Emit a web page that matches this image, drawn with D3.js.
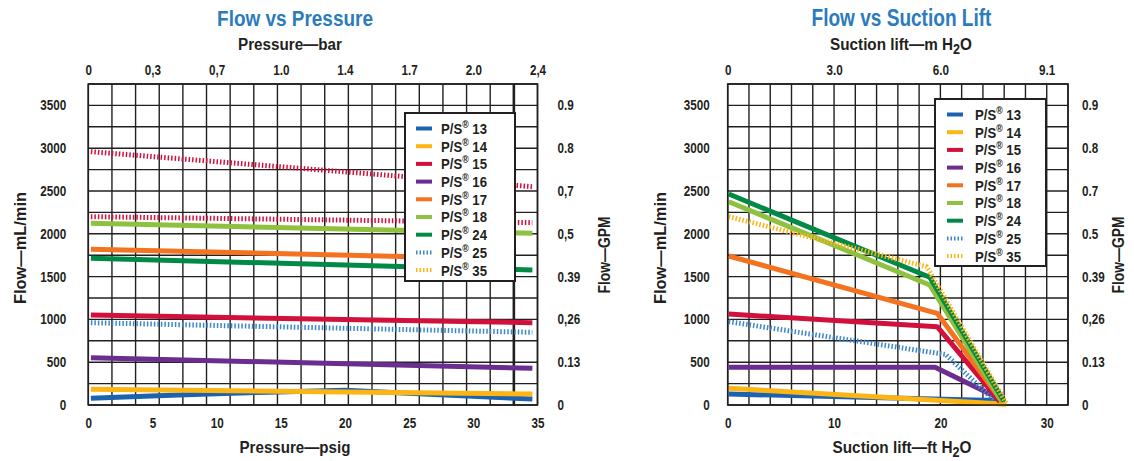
<!DOCTYPE html>
<html><head><meta charset="utf-8">
<script src="https://cdn.jsdelivr.net/npm/d3@7"></script>
<style>
body{margin:0;background:#fff}
svg text{font-family:"Liberation Sans",Arial,sans-serif;font-weight:bold;fill:#231f20}
</style></head><body><svg id="c" width="1134" height="461"></svg>
<script>
// ---------- data ----------
const seriesNames = ["13","14","15","16","17","18","24","25","35"];
const seriesColors = ["#1b63ae","#fdb515","#d2103c","#6b2d8f","#f37321","#8dc13f","#008a45","#3b87c9","#fdb515"];
const seriesDotted = [false,false,false,false,false,false,false,true,true];

// Flow vs Pressure: [psig, mL/min]
const pressPS13 = [[0.2,78],[7,118],[14,150],[20,172],[27,122],[34.6,70]];
const pressPS14 = [[0.2,183],[34.6,128]];
const pressPS15 = [[0.2,1051],[34.6,961]];
const pressPS16 = [[0.2,553],[34.6,429]];
const pressPS17 = [[0.2,1819],[31,1712]];
const pressPS18 = [[0.2,2123],[34.6,2006]];
const pressPS24 = [[0.2,1714],[34.6,1577]];
const pressPS25 = [[0.2,961],[34.6,849]];
const pressRedDottedLow = [[0.2,2200],[34.6,2130]];
const pressRedDottedHigh = [[0.2,2959],[34.6,2550]];

// Flow vs Suction lift: [ft H2O, mL/min]
const liftPS13 = [[0.1,128],[26,50]];
const liftPS14 = [[0.1,195],[26.2,10]];
const liftPS15 = [[0.1,1063],[19.7,915],[25.6,40]];
const liftPS16 = [[0.1,440],[19.5,440],[25.3,90]];
const liftPS17 = [[0.1,1741],[19.7,1071],[25.8,40]];
const liftPS18 = [[0.1,2375],[19,1402],[25.8,40]];
const liftPS24 = [[0.1,2465],[19,1492],[26,40]];
const liftPS25 = [[0.1,973],[20.5,590],[25,60]];
const liftPS35 = [[0.1,2200],[18.7,1616],[26.2,20]];

// ticks
const psigTicks = [0,5,10,15,20,25,30,35];
const barLabels = ["0","0,3","0,7","1.0","1.4","1.7","2.0","2,4"];
const ftTicks = [0,10,20,30];
const mLabels = ["0","3.0","6.0","9.1"];
const mlTicks = [0,500,1000,1500,2000,2500,3000,3500];
const gpmLabelsLeft = ["0","0.13","0,26","0.39","0,5","0,7","0.8","0.9"];
const gpmLabelsRight = ["0","0.13","0,26","0.39","0.5","0.7","0.8","0.9"];

// ---------- drawing ----------
const svg = d3.select("#c");
const INK = "#231f20";

// horizontally condense a text element about its anchor x
function squeeze(sel, sx){
  sel.each(function(){
    const s = d3.select(this);
    const x = +s.attr("x") || 0;
    const t = s.attr("transform") || "";
    s.attr("transform", `${t} translate(${x},0) scale(${sx},1) translate(${-x},0)`);
  });
}
function fit(sel, targetW){
  const w = sel.node().getComputedTextLength();
  squeeze(sel, targetW / w);
}

function drawChart(cfg){
  const g = svg.append("g");
  const x = d3.scaleLinear().domain(cfg.xDomain).range(cfg.xRange);
  const y = d3.scaleLinear().domain([0,3750]).range([405,84]);
  const [x0,x1] = cfg.xRange;

  // titles
  const ti = g.append("text").attr("x",cfg.titleX).attr("y",26).attr("text-anchor","middle")
    .style("font-size","23px").style("fill","#2b7bbd").text(cfg.title);
  fit(ti, cfg.titleW);
  const tt = g.append("text").attr("x",cfg.topX).attr("y",50).attr("text-anchor","middle").style("font-size","17px");
  cfg.topTitle(tt); fit(tt, cfg.topW);
  const bt = g.append("text").attr("x",cfg.botX).attr("y",453).attr("text-anchor","middle").style("font-size","17px");
  cfg.bottomTitle(bt); fit(bt, cfg.botW);

  // grid
  const gx = cfg.gridX.map(v=>x(v));
  g.append("g").selectAll("line").data(gx).join("line")
    .attr("x1",d=>d).attr("x2",d=>d).attr("y1",y(3750)).attr("y2",y(0))
    .attr("stroke",INK).attr("stroke-width",(d,i)=>i===cfg.thickIdx?2.6:1.4);
  g.append("g").selectAll("line").data(d3.range(0,3751,250)).join("line")
    .attr("x1",x0).attr("x2",x1).attr("y1",d=>y(d)).attr("y2",d=>y(d))
    .attr("stroke",INK).attr("stroke-width",1.4);

  // axes
  const axT = g.append("g").attr("transform",`translate(0,${y(3750)})`)
    .call(d3.axisTop(x).tickValues(cfg.xTicks).tickFormat((d,i)=>cfg.topLabels[i]).tickSize(0).tickPadding(9));
  const axB = g.append("g").attr("transform",`translate(0,${y(0)})`)
    .call(d3.axisBottom(x).tickValues(cfg.xTicks).tickFormat(d3.format("d")).tickSize(0).tickPadding(13));
  const axL = g.append("g").attr("transform",`translate(${x0},0)`)
    .call(d3.axisLeft(y).tickValues(mlTicks).tickFormat(d3.format("d")).tickSize(0).tickPadding(cfg.leftPad));
  const axR = g.append("g").attr("transform",`translate(${x1},0)`)
    .call(d3.axisRight(y).tickValues(mlTicks).tickFormat((d,i)=>cfg.gpmLabels[i]).tickSize(0).tickPadding(cfg.rightPad));
  [axT,axB,axL,axR].forEach(a=>{
    a.select(".domain").remove();
    a.selectAll("text").style("font-size","14px").attr("fill",INK)
      .style("font-family",'"Liberation Sans",Arial,sans-serif').style("font-weight","bold");
  });
  const ref = axL.selectAll("text").filter(d=>d===3500);
  const sx = 26 / ref.node().getComputedTextLength();
  [axT,axB,axL,axR].forEach(a=>squeeze(a.selectAll("text"), sx));

  // rotated axis titles
  const yl = g.append("text").attr("transform",`translate(${cfg.yTitleL},248) rotate(-90)`)
    .attr("text-anchor","middle").style("font-size","16px").text("Flow—mL/min");
  fit(yl, 112);
  const yr = g.append("text").attr("transform",`translate(${cfg.yTitleR},255) rotate(-90)`)
    .attr("text-anchor","middle").style("font-size","16px").text("Flow—GPM");
  fit(yr, 77);

  // series
  const line = d3.line().x(d=>x(d[0])).y(d=>y(d[1]));
  cfg.series.forEach(s=>{
    g.append("path").datum(s.data).attr("d",line).attr("fill","none")
      .attr("stroke",s.color).attr("stroke-width",5).attr("stroke-linejoin","round")
      .attr("stroke-dasharray",s.dotted?"1.5 2":null);
  });

  // border
  g.append("rect").attr("x",x0).attr("y",y(3750)).attr("width",x1-x0).attr("height",y(0)-y(3750))
    .attr("fill","none").attr("stroke",INK).attr("stroke-width",1.6);

  // legend
  const L = cfg.legend;
  const lg = g.append("g").attr("transform",`translate(${L.x},${L.y})`);
  lg.append("rect").attr("width",L.w).attr("height",L.h).attr("fill","#fff").attr("stroke",INK).attr("stroke-width",2);
  seriesNames.forEach((n,i)=>{
    const yy = 15.5 + i*17.7;
    lg.append("line").attr("x1",L.sw).attr("x2",L.sw+16).attr("y1",yy).attr("y2",yy)
      .attr("stroke",seriesColors[i]).attr("stroke-width",4)
      .attr("stroke-dasharray",seriesDotted[i]?"1.5 2":null);
    const t = lg.append("text").attr("x",L.tx).attr("y",yy+5.5).style("font-size","15px");
    t.append("tspan").text("P/S");
    t.append("tspan").attr("dy","-6").style("font-size","10px").text("®");
    t.append("tspan").attr("dy","6").text(" "+n);
    fit(t, 46);
  });
}

function sub2(t,pre){
  t.append("tspan").text(pre+"H");
  t.append("tspan").attr("dy","4").style("font-size","14px").text("2");
  t.append("tspan").attr("dy","-4").text("O");
}

const pressSeries = [
  {data:pressRedDottedHigh,color:"#d2103c",dotted:true},
  {data:pressRedDottedLow,color:"#d2103c",dotted:true},
  {data:pressPS18,color:seriesColors[5]},
  {data:pressPS17,color:seriesColors[4]},
  {data:pressPS24,color:seriesColors[6]},
  {data:pressPS15,color:seriesColors[2]},
  {data:pressPS25,color:seriesColors[7],dotted:true},
  {data:pressPS16,color:seriesColors[3]},
  {data:pressPS13,color:seriesColors[0]},
  {data:pressPS14,color:seriesColors[1]},
];
const liftSeries = [
  {data:liftPS13,color:seriesColors[0]},
  {data:liftPS14,color:seriesColors[1]},
  {data:liftPS16,color:seriesColors[3]},
  {data:liftPS25,color:seriesColors[7],dotted:true},
  {data:liftPS15,color:seriesColors[2]},
  {data:liftPS17,color:seriesColors[4]},
  {data:liftPS18,color:seriesColors[5]},
  {data:liftPS24,color:seriesColors[6]},
  {data:liftPS35,color:seriesColors[8],dotted:true},
];

drawChart({
  title:"Flow vs Pressure", titleX:295, titleW:156,
  topTitle:t=>t.text("Pressure—bar"), topX:290, topW:104,
  bottomTitle:t=>t.text("Pressure—psig"), botX:295, botW:111,
  xDomain:[0,35], xRange:[88.3,537.5],
  gridX:d3.range(20).map(i=>i*35/19), thickIdx:18,
  xTicks:psigTicks, topLabels:barLabels, gpmLabels:gpmLabelsLeft,
  leftPad:22, rightPad:20,
  yTitleL:26, yTitleR:610,
  series:pressSeries,
  legend:{x:405,y:113,w:110,h:168,sw:11,tx:36}
});
drawChart({
  title:"Flow vs Suction Lift", titleX:901.5, titleW:180,
  topTitle:t=>sub2(t,"Suction lift—m "), topX:901, topW:142,
  bottomTitle:t=>sub2(t,"Suction lift—ft "), botX:902, botW:139,
  xDomain:[0,32], xRange:[727.7,1068],
  gridX:d3.range(0,33,2), thickIdx:-1,
  xTicks:ftTicks, topLabels:mLabels, gpmLabels:gpmLabelsRight,
  leftPad:18, rightPad:14,
  yTitleL:666, yTitleR:1124,
  series:liftSeries,
  legend:{x:935,y:99,w:111,h:167,sw:12,tx:40}
});
</script></body></html>
